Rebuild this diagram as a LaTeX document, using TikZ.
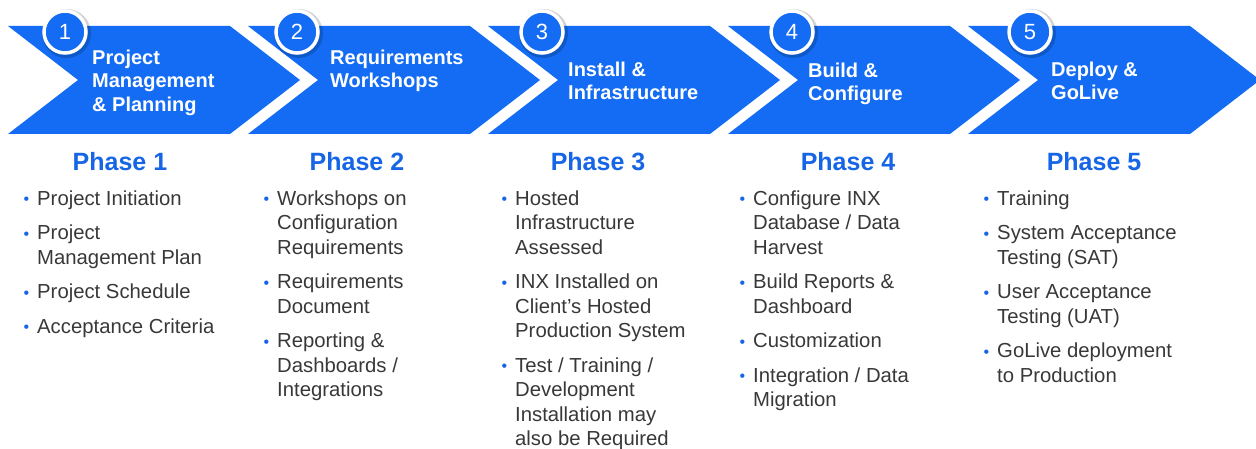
\documentclass[tikz,border=0pt]{standalone}
\usepackage{fontspec}
\setmainfont{Liberation Sans}
\definecolor{chevblue}{HTML}{136CF3}
\definecolor{phaseblue}{HTML}{1565E6}
\definecolor{bodygray}{HTML}{383838}
\newcommand{\bul}{\llap{\textcolor{phaseblue}{\fontsize{16}{16}\selectfont\raisebox{0.5pt}{•}}\hspace{8pt}}}
\tikzset{
  chev/.style={fill=chevblue, draw=none},
  ringc/.style={circle, fill=chevblue, draw=white, line width=3.5pt, minimum size=42pt, inner sep=0pt},
  numtxt/.style={text=white, font=\fontsize{22}{22}\selectfont, inner sep=0pt},
  titletxt/.style={text=white, font=\bfseries\fontsize{20}{23.5}\selectfont, align=left, inner sep=0pt, anchor=north west},
  phasetxt/.style={text=phaseblue, font=\bfseries\fontsize{25}{25}\selectfont, inner sep=0pt, anchor=base},
  listtxt/.style={text=bodygray, font=\fontsize{20.3}{24.5}\selectfont, align=left, inner sep=0pt, anchor=north west},
}
\begin{document}
\begin{tikzpicture}[x=1pt,y=-1pt]
\useasboundingbox (0,0) rectangle (1256,449);
% chevrons
\foreach \i in {0,...,4}{
  \pgfmathsetmacro{\xa}{8+240*\i}
  \fill[chev] (\xa,26) -- ({\xa+222},26) -- ({\xa+292},80) -- ({\xa+222},134) -- (\xa,134) -- ({\xa+70},80) -- cycle;
}
% number circles with shadow
\foreach \cx/\n in {65/1,297/2,542/3,792/4,1030/5}{
  \fill[black, opacity=0.18] (\cx+1.5,33.5) circle (24.5);
  \node[ringc] (n\n) at (\cx,32) {};
  \node[numtxt] (t\n) at (n\n.center) {\n};
}
% titles
\node[titletxt] (h1) at (92,47.5) {\strut Project\\Management\\\& Planning};
\node[titletxt] (h2) at (330,47.5) {\strut Requirements\\Workshops};
\node[titletxt] (h3) at (568,59.5) {\strut Install \&\\Infrastructure};
\node[titletxt] (h4) at (808,60.5) {\strut Build \&\\Configure};
\node[titletxt] (h5) at (1051,59.5) {\strut Deploy \&\\GoLive};
% phase labels
\node[phasetxt] (p1) at (120,171) {Phase 1};
\node[phasetxt] (p2) at (357,171) {Phase 2};
\node[phasetxt] (p3) at (598,171) {Phase 3};
\node[phasetxt] (p4) at (848,171) {Phase 4};
\node[phasetxt] (p5) at (1094,171) {Phase 5};
% lists
\node[listtxt] (l1) at (37,187.9) {\strut\bul Project Initiation\\[10pt]\bul Project\\Management Plan\\[10pt]\bul Project Schedule\\[10pt]\bul Acceptance Criteria};
\node[listtxt] (l2) at (277,187.9) {\strut\bul Workshops on\\Configuration\\Requirements\\[10pt]\bul Requirements\\Document\\[10pt]\bul Reporting \&\\Dashboards /\\Integrations};
\node[listtxt] (l3) at (515,187.9) {\strut\bul Hosted\\Infrastructure\\Assessed\\[10pt]\bul INX Installed on\\Client’s Hosted\\Production System\\[10pt]\bul Test / Training /\\Development\\Installation may\\also be Required};
\node[listtxt] (l4) at (753,187.9) {\strut\bul Configure INX\\Database / Data\\Harvest\\[10pt]\bul Build Reports \&\\Dashboard\\[10pt]\bul Customization\\[10pt]\bul Integration / Data\\Migration};
\node[listtxt] (l5) at (997,187.9) {\strut\bul Training\\[10pt]\bul System Acceptance\\Testing (SAT)\\[10pt]\bul User Acceptance\\Testing (UAT)\\[10pt]\bul GoLive deployment\\to Production};
\end{tikzpicture}
\end{document}
